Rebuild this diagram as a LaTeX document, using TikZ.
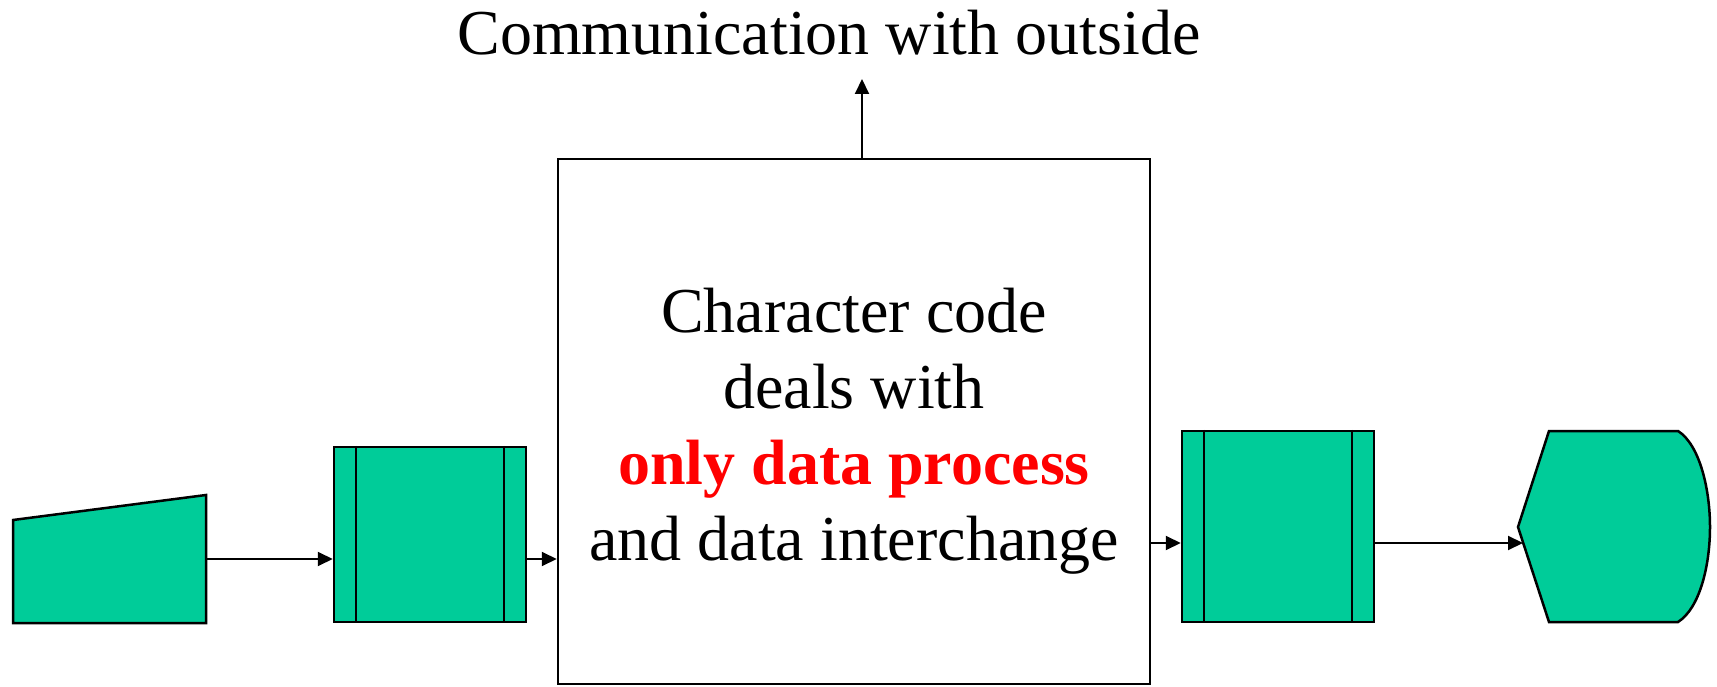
\documentclass[tikz,border=0pt]{standalone}
\usepackage{fontspec}
\setmainfont{Liberation Serif}
\usetikzlibrary{arrows.meta}
\definecolor{flowgreen}{RGB}{0,204,153}
\definecolor{hotred}{RGB}{255,0,0}
\begin{document}
\begin{tikzpicture}[x=1pt,y=-1pt,
  shapefill/.style={draw=black,line width=2.5pt,fill=flowgreen,line join=miter},
  conn/.style={line width=2pt,-{Triangle[length=15pt,width=14pt]}},
  predef/.style={shapefill,rectangle,minimum width=192pt,minimum height=#1,inner sep=0pt},
  bigbox/.style={draw=black,line width=2.5pt,fill=white,minimum width=592pt,minimum height=525pt,inner sep=0pt},
  bigtext/.style={align=center,inner sep=0pt,font=\fontsize{64}{76}\selectfont}
]
\useasboundingbox (0,0) rectangle (1717,687);
% manual input
\draw[shapefill] (13,520) -- (206,495) -- (206,623) -- (13,623) -- cycle;
\coordinate (mi) at (206,559);
% predefined process 1
\node[predef=175pt] (b2) at (430,534.5) {};
\draw[line width=2pt] ([xshift=23pt]b2.north west) -- ([xshift=23pt]b2.south west);
\draw[line width=2pt] ([xshift=-23pt]b2.north east) -- ([xshift=-23pt]b2.south east);
% big box
\node[bigbox] (big) at (854,421.5) {};
\node[bigtext] (txt) at (854,431) {Character code\\deals with\\{\bfseries\color{hotred}only data process}\\and data interchange};
% predefined process 2
\node[predef=191pt] (b4) at (1278,526.5) {};
\draw[line width=2pt] ([xshift=23pt]b4.north west) -- ([xshift=23pt]b4.south west);
\draw[line width=2pt] ([xshift=-23pt]b4.north east) -- ([xshift=-23pt]b4.south east);
% display
\draw[shapefill] (1518,527) -- (1549,431) -- (1678,431)
  .. controls (1700,445) and (1710,490) .. (1710,527)
  .. controls (1710,565) and (1700,608) .. (1678,622)
  -- (1549,622) -- cycle;
\coordinate (disp) at (1523,543);
% title
\node[font=\fontsize{64}{70}\selectfont,anchor=base] (title) at (829,55) {Communication with outside};
\coordinate (top) at (862,79);
% connectors
\draw[conn] (mi) -- (b2.west |- mi);
\draw[conn] (b2.east |- mi) -- (big.west |- mi);
\coordinate (r) at (1150,543);
\draw[conn] (r) -- (b4.west |- r);
\draw[conn] (b4.east |- r) -- (disp);
\draw[conn] ([xshift=8pt]big.north) -- (top);
\end{tikzpicture}
\end{document}
